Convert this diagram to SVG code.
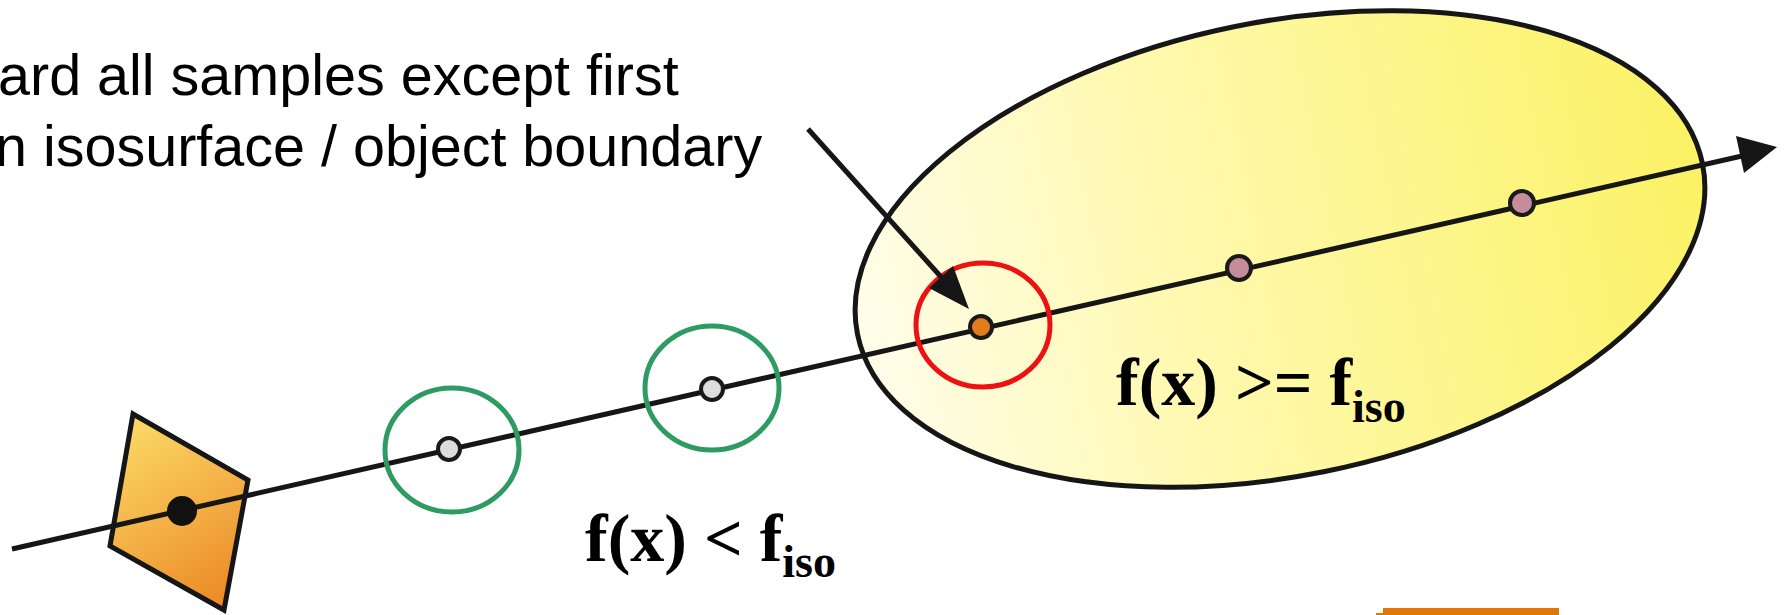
<svg xmlns="http://www.w3.org/2000/svg" width="1791" height="615" viewBox="0 0 1791 615">
<style>
.cap{font-family:"Liberation Sans",Arial,sans-serif;font-size:57.5px;fill:#000}
.eq{font-family:"Liberation Serif","Times New Roman",serif;font-weight:bold;font-size:68px;fill:#000}
.sub{font-size:46px}
.ring-g{fill:none;stroke:#2e9b63;stroke-width:5}
.ring-r{fill:none;stroke:#ee1111;stroke-width:5}
.dot{stroke:#1a1a1a;stroke-width:4}
.ray{stroke:#161616;stroke-width:5;fill:none}
</style>
<defs>
<linearGradient id="gEll" gradientUnits="userSpaceOnUse" x1="856" y1="0" x2="1705" y2="0">
<stop offset="0" stop-color="#fffde9"/>
<stop offset="0.35" stop-color="#fff9b2"/>
<stop offset="1" stop-color="#fbf266"/>
</linearGradient>
<linearGradient id="gCam" gradientUnits="userSpaceOnUse" x1="120" y1="420" x2="235" y2="610">
<stop offset="0" stop-color="#fbdc66"/>
<stop offset="0.5" stop-color="#f4b046"/>
<stop offset="1" stop-color="#ea8522"/>
</linearGradient>
</defs>

<g id="object">
<ellipse cx="1280" cy="249" rx="431" ry="227" transform="rotate(-11.4 1280 249)" fill="url(#gEll)" stroke="#161616" stroke-width="5"/>
</g>

<g id="camera">
<polygon points="133,414 248,480 224,610 110,546" fill="url(#gCam)" stroke="#161616" stroke-width="5" stroke-linejoin="miter"/>
</g>

<g id="connectors">
<line class="ray" x1="12" y1="549" x2="1742" y2="156"/>
<polygon points="1777,147 1736,136 1744,173" fill="#161616"/>
</g>

<g id="camera-origin">
<circle cx="182" cy="511" r="15" fill="#111"/>
</g>

<g id="sample-1">
<ellipse class="ring-g" cx="452" cy="450" rx="67" ry="62"/>
<circle class="dot" cx="449" cy="449" r="11" fill="#dddddd"/>
</g>
<g id="sample-2">
<ellipse class="ring-g" cx="712" cy="388" rx="67" ry="62"/>
<circle class="dot" cx="712" cy="389" r="11" fill="#dddddd"/>
</g>
<g id="sample-hit">
<ellipse class="ring-r" cx="983" cy="325" rx="67" ry="62"/>
<circle class="dot" cx="981" cy="327" r="11" fill="#e37d1c"/>
</g>
<g id="sample-3">
<circle class="dot" cx="1239" cy="268" r="12" fill="#c48d99"/>
</g>
<g id="sample-4">
<circle class="dot" cx="1522" cy="203" r="12" fill="#c48d99"/>
</g>

<g id="pointer">
<line x1="808" y1="129" x2="942" y2="278" stroke="#161616" stroke-width="5"/>
<polygon points="969,309 953,266 929,288" fill="#161616"/>
</g>

<g id="caption">
<text class="cap" x="-2" y="95">ard all samples except first</text>
<text class="cap" x="-5" y="166">n isosurface / object boundary</text>
</g>

<g id="label-outside">
<text class="eq" x="585" y="561">f(x) &lt; f<tspan class="sub" dy="16">iso</tspan></text>
</g>

<g id="label-inside">
<text class="eq" x="1116" y="405">f(x) &gt;= f<tspan class="sub" dy="17">iso</tspan></text>
</g>

<g id="corner-bar">
<rect x="1383" y="608" width="176" height="7" fill="#e27707"/>
<rect x="1376" y="613" width="8" height="2" fill="#e27707"/>
</g>
</svg>
